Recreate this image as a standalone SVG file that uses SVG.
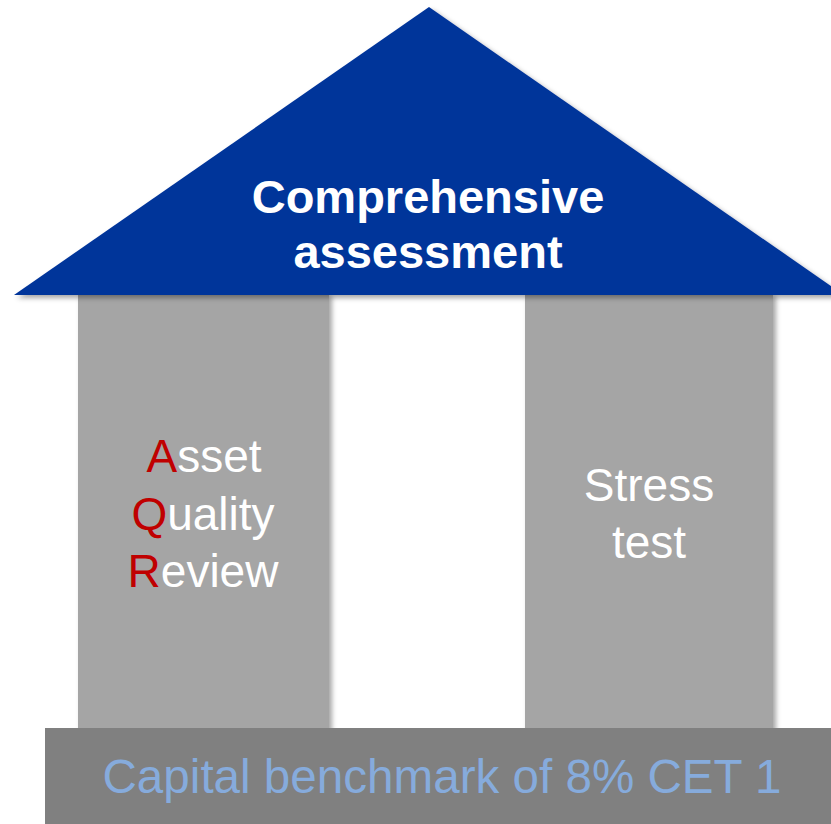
<svg xmlns="http://www.w3.org/2000/svg" width="831" height="824" viewBox="0 0 831 824">
  <defs>
    <filter id="sh" x="-10%" y="-10%" width="130%" height="130%">
      <feDropShadow dx="3" dy="3" stdDeviation="2.5" flood-color="#000" flood-opacity="0.35"/>
    </filter>
  </defs>
  <style>
    .pillar { fill: #a5a5a5; filter: url(#sh); }
    .lbl { font-family: "Liberation Sans", Arial, sans-serif; font-size: 46px; fill: #ffffff; text-anchor: middle; }
    .red { fill: #c00000; }
    .title { font-family: "Liberation Sans", Arial, sans-serif; font-size: 47px; font-weight: bold; fill: #ffffff; text-anchor: middle; }
    .base { font-family: "Liberation Sans", Arial, sans-serif; font-size: 47.6px; fill: #86abdc; text-anchor: middle; }
  </style>
  <rect width="831" height="824" fill="#ffffff"/>
  <g id="pillar-aqr">
    <rect class="pillar" x="78" y="293" width="251" height="440"/>
    <text class="lbl" x="204" y="472"><tspan class="red">A</tspan>sset</text>
    <text class="lbl" x="203" y="530"><tspan class="red">Q</tspan>uality</text>
    <text class="lbl" x="203" y="587"><tspan class="red">R</tspan>eview</text>
  </g>
  <g id="pillar-stress">
    <rect class="pillar" x="525" y="293" width="248" height="440"/>
    <text class="lbl" x="649" y="501">Stress</text>
    <text class="lbl" x="649" y="558">test</text>
  </g>
  <g id="roof">
    <polygon points="429,7 14,295 844,295" fill="#00349a" filter="url(#sh)"/>
    <text class="title" x="428" y="213">Comprehensive</text>
    <text class="title" x="428" y="268">assessment</text>
  </g>
  <g id="base">
    <rect x="45" y="728" width="800" height="100" fill="#808080"/>
    <text class="base" x="442" y="793">Capital benchmark of 8% CET 1</text>
  </g>
  <g id="connectors"/>
</svg>
